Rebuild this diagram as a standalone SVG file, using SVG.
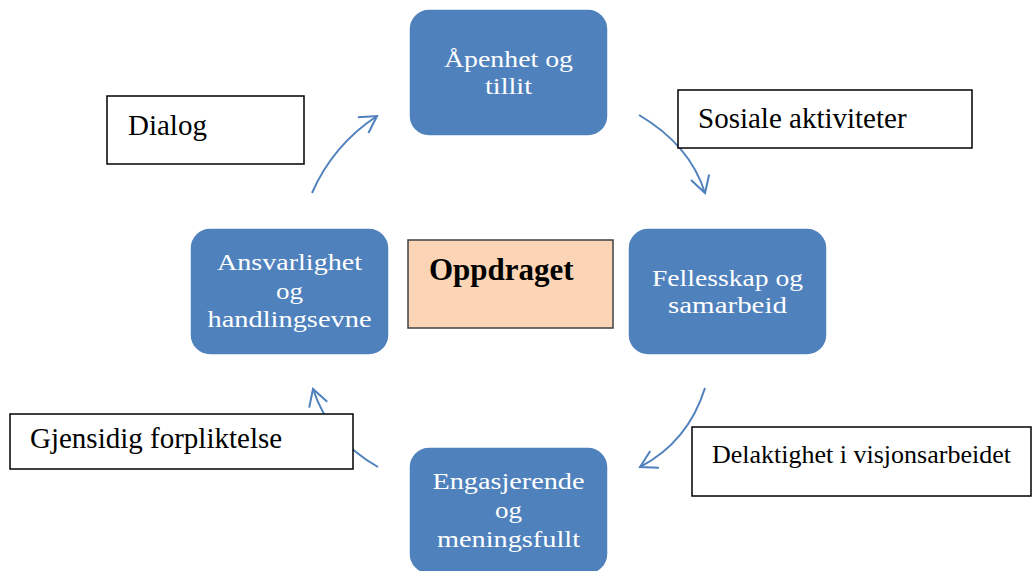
<svg xmlns="http://www.w3.org/2000/svg" width="1035" height="571" viewBox="0 0 1035 571">
<style>
.node{fill:#4F81BD;stroke:#ffffff;stroke-width:1.5}
.nt{font-family:"Liberation Serif","Times New Roman",serif;font-size:24px;fill:#ffffff;text-anchor:middle}
.lab{fill:#ffffff;stroke:#000000;stroke-width:1.5}
.lt{font-family:"Liberation Serif","Times New Roman",serif;font-size:29px;fill:#000000}
.lt2{font-family:"Liberation Serif","Times New Roman",serif;font-size:26px;fill:#000000}
.arc{fill:none;stroke:#4F81BD;stroke-width:2}
</style>
<defs>
<marker id="ah" markerUnits="userSpaceOnUse" viewBox="-20 -12 22 24" markerWidth="22" markerHeight="24" refX="0" refY="0" orient="auto">
<path d="M-16.5,-9.5 L0,0 L-16.5,9.5" fill="none" stroke="#4F81BD" stroke-width="2"/>
</marker>
</defs>
<rect width="1035" height="571" fill="#ffffff"/>
<g id="connectors">
<path class="arc" d="M312,193 Q333,145 377,116" marker-end="url(#ah)"/>
<path class="arc" d="M639,115 Q690,145 705,193" marker-end="url(#ah)"/>
<path class="arc" d="M705,388 Q688,442 640,467" marker-end="url(#ah)"/>
<path class="arc" d="M378,467 Q330,440 313,389" marker-end="url(#ah)"/>
</g>
<g id="node-apenhet">
<rect class="node" x="409" y="9" width="199" height="127" rx="20"/>
<text class="nt" x="508.5" y="67" textLength="129" lengthAdjust="spacingAndGlyphs">Åpenhet og</text>
<text class="nt" x="508.5" y="94" textLength="47" lengthAdjust="spacingAndGlyphs">tillit</text>
</g>
<g id="node-fellesskap">
<rect class="node" x="628" y="228" width="199" height="127" rx="20"/>
<text class="nt" x="727.5" y="286" textLength="151" lengthAdjust="spacingAndGlyphs">Fellesskap og</text>
<text class="nt" x="727.5" y="313" textLength="119" lengthAdjust="spacingAndGlyphs">samarbeid</text>
</g>
<g id="node-engasjerende">
<rect class="node" x="409" y="447" width="199" height="127" rx="20"/>
<text class="nt" x="508.5" y="489" textLength="152" lengthAdjust="spacingAndGlyphs">Engasjerende</text>
<text class="nt" x="508.5" y="518" textLength="27" lengthAdjust="spacingAndGlyphs">og</text>
<text class="nt" x="508.5" y="547" textLength="143" lengthAdjust="spacingAndGlyphs">meningsfullt</text>
</g>
<g id="node-ansvarlighet">
<rect class="node" x="190" y="228" width="199" height="127" rx="20"/>
<text class="nt" x="289.5" y="270" textLength="145" lengthAdjust="spacingAndGlyphs">Ansvarlighet</text>
<text class="nt" x="289.5" y="299" textLength="27" lengthAdjust="spacingAndGlyphs">og</text>
<text class="nt" x="289.5" y="327" textLength="164" lengthAdjust="spacingAndGlyphs">handlingsevne</text>
</g>
<g id="node-oppdraget">
<rect x="408" y="240" width="205" height="88" fill="#FBD5B5" stroke="#404040" stroke-width="1.5"/>
<text x="429" y="280" font-family="'Liberation Serif','Times New Roman',serif" font-size="31" font-weight="bold" fill="#000000">Oppdraget</text>
</g>
<g id="label-dialog">
<rect class="lab" x="107" y="96" width="197" height="68"/>
<text class="lt" x="128" y="135">Dialog</text>
</g>
<g id="label-sosiale">
<rect class="lab" x="678" y="90" width="294" height="58"/>
<text class="lt" x="698" y="128">Sosiale aktiviteter</text>
</g>
<g id="label-gjensidig">
<rect class="lab" x="10" y="414" width="343" height="55"/>
<text class="lt" x="30" y="448">Gjensidig forpliktelse</text>
</g>
<g id="label-delaktighet">
<rect class="lab" x="692" y="427" width="339" height="69"/>
<text class="lt2" x="712" y="463">Delaktighet i visjonsarbeidet</text>
</g>
</svg>
